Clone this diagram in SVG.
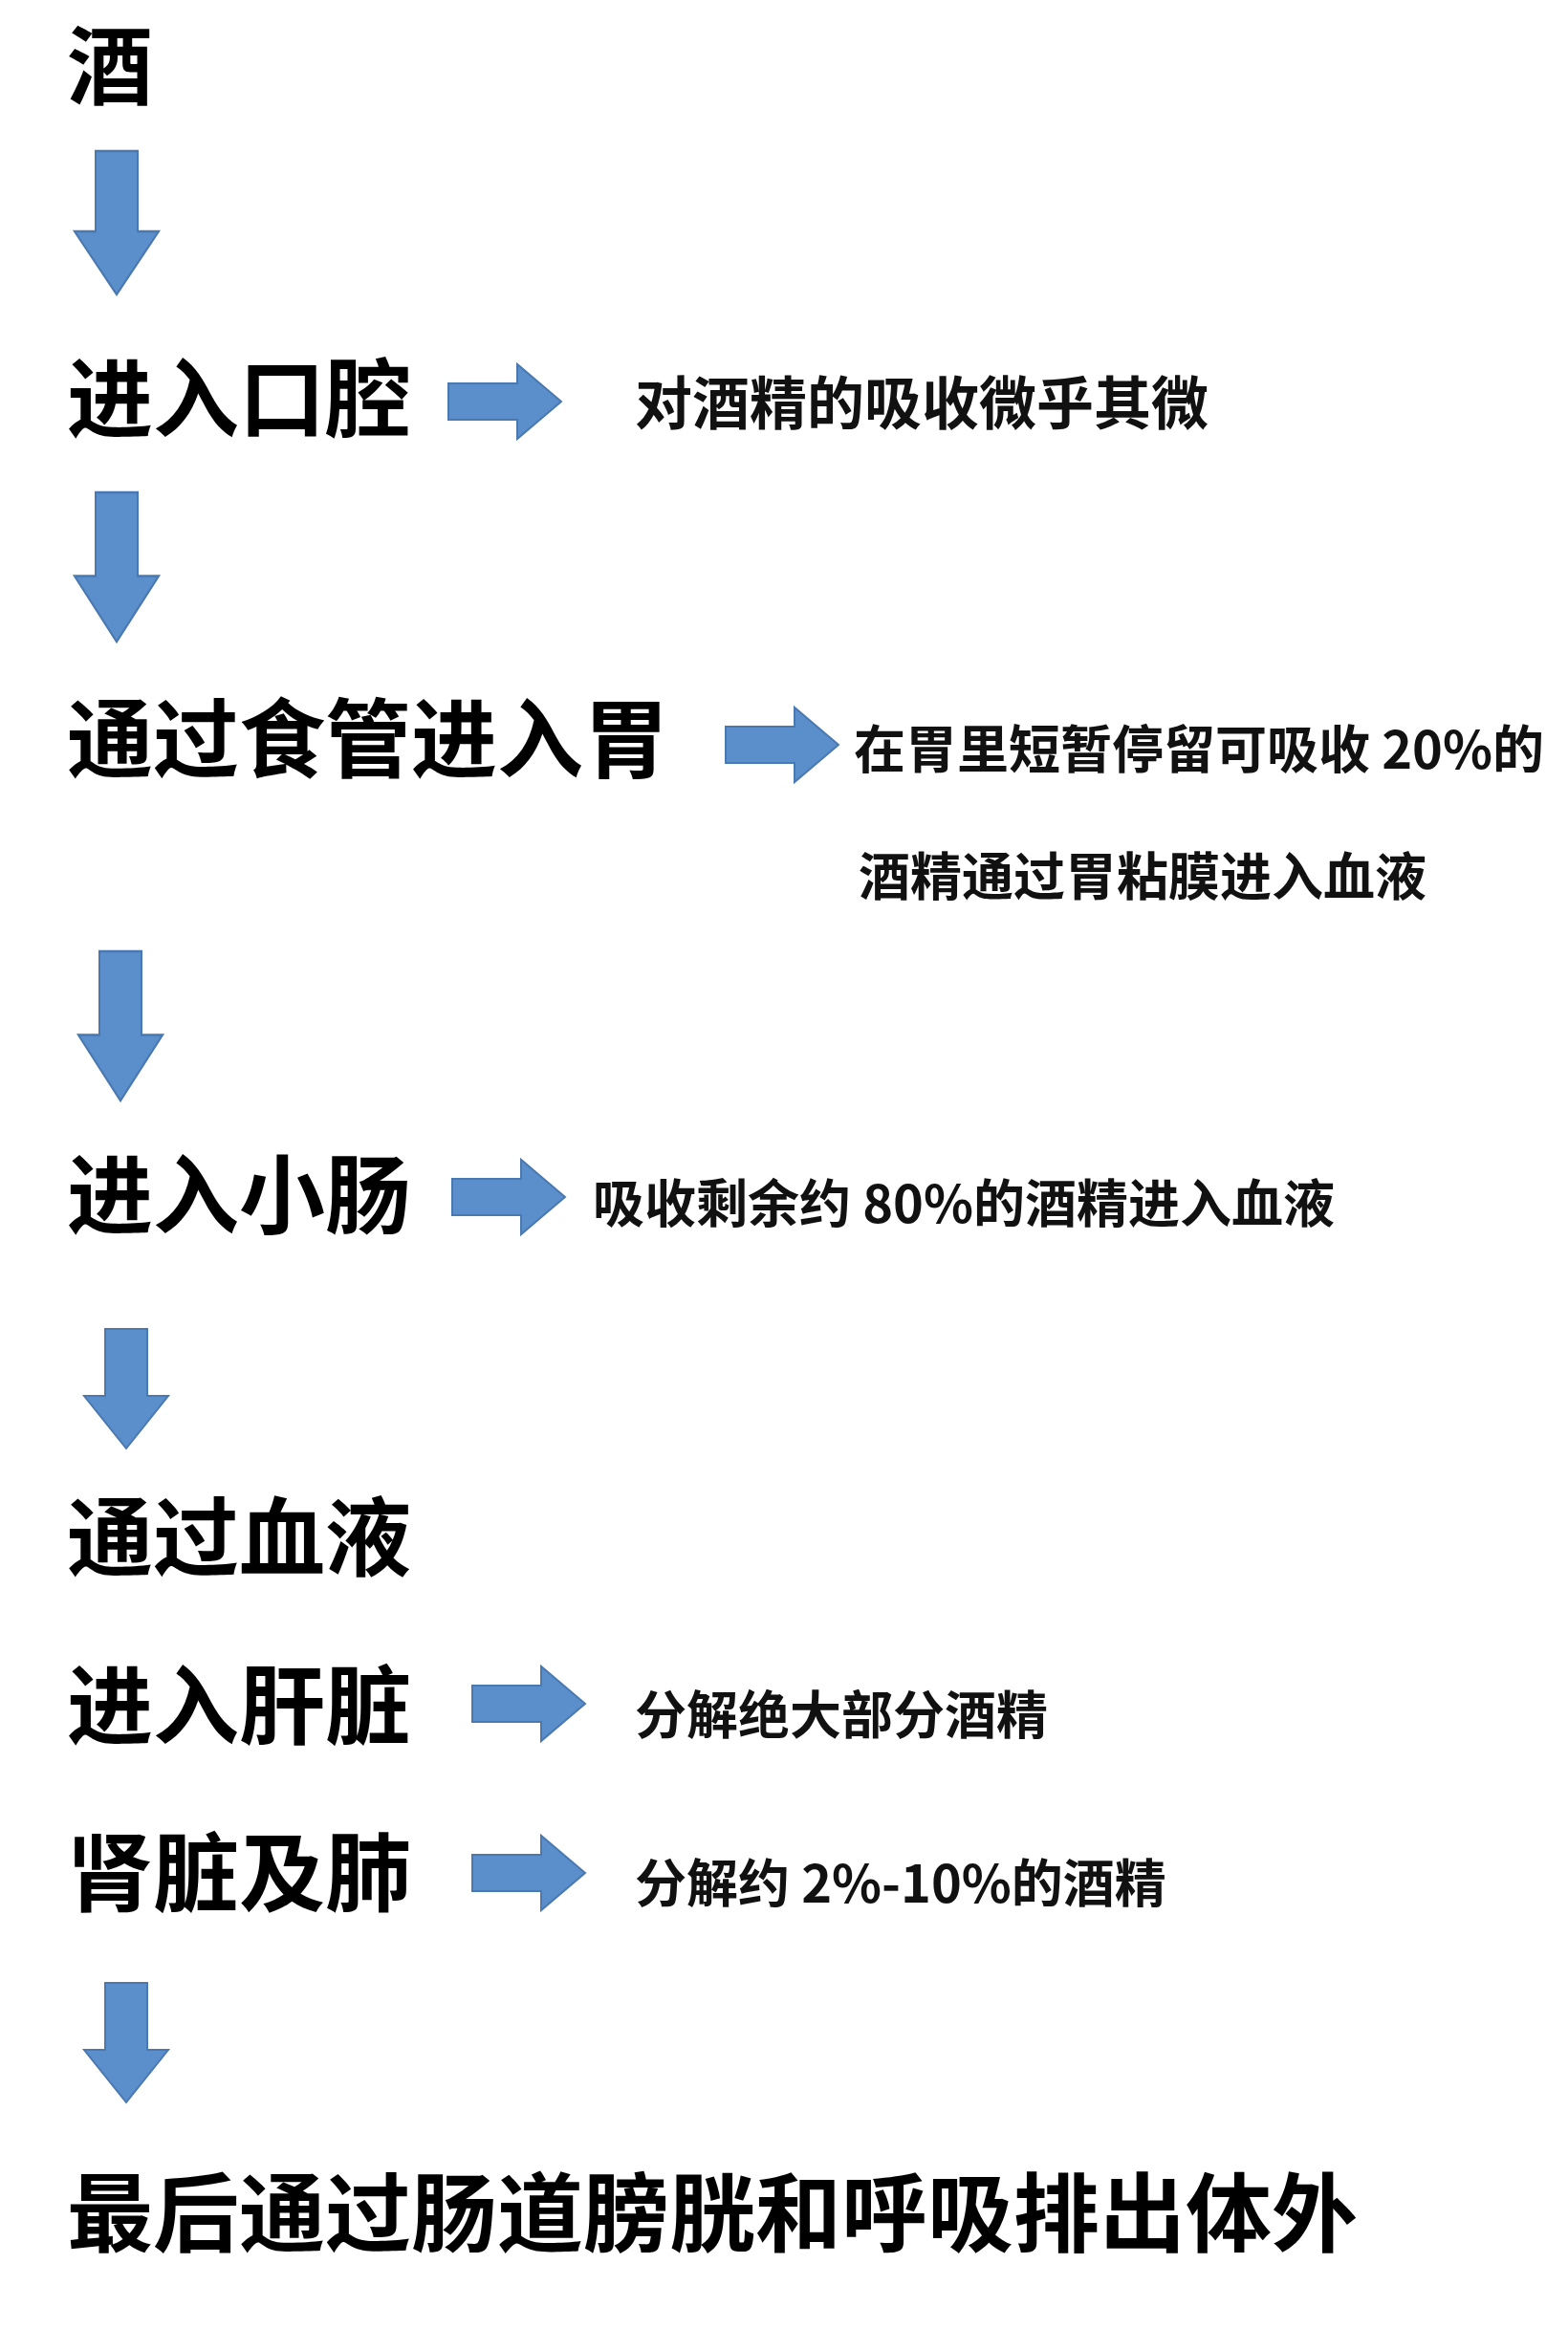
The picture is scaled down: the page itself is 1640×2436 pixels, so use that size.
<svg xmlns="http://www.w3.org/2000/svg" width="1640" height="2436" viewBox="0 0 1640 2436">
<style>
.big{font-family:"Noto Sans CJK SC","Noto Sans",sans-serif;font-weight:700;font-size:90px;fill:#000}
.sm{font-family:"Noto Sans CJK SC","Noto Sans",sans-serif;font-weight:700;font-size:54px;fill:#111}
.arr{fill:#5b8fcb;stroke:#4a78b0;stroke-width:2}
</style>
<rect width="1640" height="2436" fill="#fff"/>
<defs>
<path id="down" d="M-22,0 H22 V70 H44 L0,125 L-44,70 H-22 Z"/>
<path id="right" d="M0,-19 H72 V-39 L118,0 L72,39 V19 H0 Z"/>
</defs>
<g id="connectors">
<use href="#down" class="arr" x="122" y="158" transform="scale(1,1.2) translate(0,-26.3)"/>
<use href="#down" class="arr" x="122" y="515" transform="scale(1,1.25) translate(0,-103)"/>
<use href="#down" class="arr" x="126" y="995" transform="scale(1,1.25) translate(0,-199)"/>
<use href="#down" class="arr" x="132" y="1390"/>
<use href="#down" class="arr" x="132" y="2074"/>
<use href="#right" class="arr" x="469" y="420"/>
<use href="#right" class="arr" x="759" y="779"/>
<use href="#right" class="arr" x="473" y="1252"/>
<use href="#right" class="arr" x="494" y="1782"/>
<use href="#right" class="arr" x="494" y="1959"/>
</g>
<g id="n0"><text class="big" x="70" y="102">酒</text></g>
<g id="n1"><text class="big" x="70" y="450">进入口腔</text></g>
<g id="n1d"><text class="sm" x="664" y="444" style="font-size:60px">对酒精的吸收微乎其微</text></g>
<g id="n2"><text class="big" x="70" y="806">通过食管进入胃</text></g>
<g id="n2d"><text class="sm" x="893" y="804">在胃里短暂停留可吸收 20%的</text><text class="sm" x="898" y="937">酒精通过胃粘膜进入血液</text></g>
<g id="n3"><text class="big" x="70" y="1283">进入小肠</text></g>
<g id="n3d"><text class="sm" x="620" y="1279">吸收剩余约 80%的酒精进入血液</text></g>
<g id="n4"><text class="big" x="70" y="1641">通过血液</text></g>
<g id="n5"><text class="big" x="70" y="1817">进入肝脏</text></g>
<g id="n5d"><text class="sm" x="664" y="1814">分解绝大部分酒精</text></g>
<g id="n6"><text class="big" x="70" y="1992">肾脏及肺</text></g>
<g id="n6d"><text class="sm" x="664" y="1990">分解约 2%-10%的酒精</text></g>
<g id="n7"><text class="big" x="70" y="2348">最后通过肠道膀胱和呼吸排出体外</text></g>
</svg>
